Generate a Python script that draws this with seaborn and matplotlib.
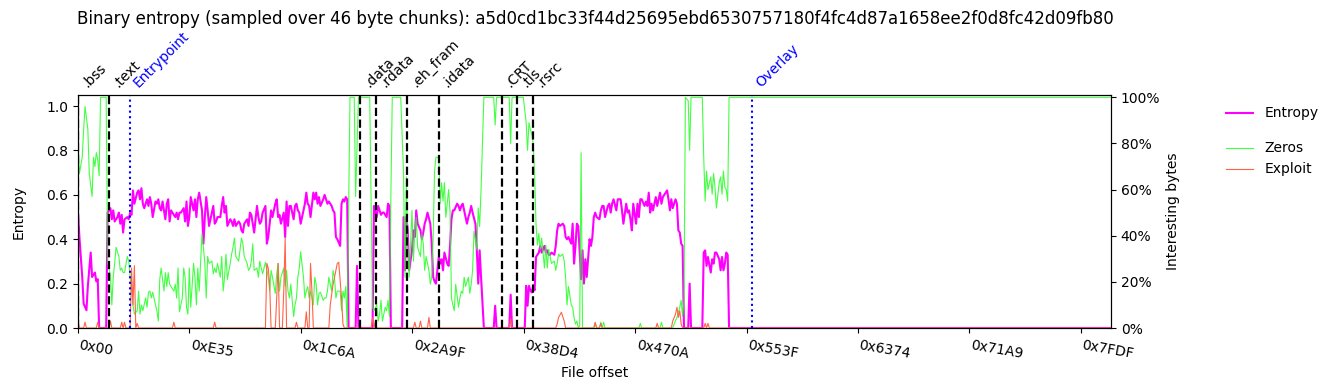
import numpy as np
import pandas as pd
import matplotlib
matplotlib.use("Agg")
import matplotlib.pyplot as plt
import seaborn as sns
from matplotlib.ticker import PercentFormatter

CHUNK = 46
TITLE = ("Binary entropy (sampled over 46 byte chunks): "
         "a5d0cd1bc33f44d25695ebd6530757180f4fc4d87a1658ee2f0d8fc42d09fb80")

# ---- data: chunk index (x46 bytes) and value ----
entropy_chunk = [
    0, 1, 3, 4, 6, 7, 9, 10, 12, 13,
    14, 15, 20, 21, 23, 24, 25, 26, 28, 29,
    30, 31, 32, 33, 35, 36, 37, 38, 39, 40,
    42, 43, 44, 45, 46, 47, 49, 50, 51, 52,
    53, 55, 56, 57, 58, 59, 60, 62, 63, 64,
    65, 66, 67, 69, 70, 71, 72, 73, 75, 76,
    77, 78, 79, 80, 82, 83, 84, 85, 86, 88,
    89, 90, 91, 92, 93, 95, 96, 97, 98, 99,
    101, 102, 103, 104, 105, 106, 108, 109, 110, 111,
    112, 114, 115, 116, 117, 118, 120, 121, 122, 123,
    124, 125, 127, 128, 129, 130, 131, 133, 134, 135,
    136, 137, 138, 140, 141, 142, 143, 144, 146, 147,
    148, 149, 150, 151, 153, 154, 155, 156, 157, 158,
    160, 161, 162, 163, 164, 165, 167, 168, 169, 170,
    171, 172, 174, 175, 176, 177, 178, 180, 181, 182,
    183, 184, 186, 187, 188, 189, 190, 191, 192, 197,
    198, 199, 209, 210, 212, 213, 214, 215, 216, 217,
    219, 220, 221, 222, 230, 231, 232, 233, 234, 235,
    237, 238, 239, 240, 241, 243, 244, 245, 246, 247,
    248, 250, 251, 252, 253, 254, 256, 257, 258, 259,
    260, 262, 263, 264, 265, 266, 267, 269, 270, 271,
    272, 273, 275, 276, 277, 278, 279, 280, 282, 283,
    284, 285, 286, 288, 295, 296, 297, 306, 307, 308,
    317, 318, 319, 320, 321, 322, 323, 324, 325, 327,
    328, 329, 331, 332, 333, 334, 335, 336, 338, 339,
    340, 341, 342, 344, 345, 346, 347, 348, 350, 351,
    352, 353, 354, 355, 357, 358, 359, 360, 361, 363,
    364, 365, 366, 367, 368, 370, 371, 372, 373, 374,
    376, 377, 378, 379, 380, 382, 383, 384, 385, 386,
    387, 389, 390, 391, 392, 393, 394, 396, 397, 398,
    399, 400, 402, 403, 404, 405, 406, 407, 408, 410,
    411, 412, 413, 414, 415, 417, 418, 419, 420, 421,
    422, 424, 425, 426, 427, 428, 429, 430, 433, 434,
    435, 443, 444, 445, 446, 447, 449, 450, 451, 452,
    453, 455, 456, 457, 458, 459, 460, 461, 462, 733,
]
entropy_value = [
    0.52, 0.41, 0.23, 0.11, 0.08, 0.19, 0.34, 0.23, 0.25, 0.21,
    0.22, 0.00, 0.00, 0.52, 0.54, 0.49, 0.53, 0.48, 0.50, 0.52,
    0.47, 0.51, 0.43, 0.49, 0.50, 0.49, 0.52, 0.51, 0.62, 0.56,
    0.61, 0.62, 0.58, 0.63, 0.56, 0.54, 0.58, 0.55, 0.59, 0.56,
    0.50, 0.57, 0.56, 0.58, 0.54, 0.53, 0.57, 0.49, 0.56, 0.58,
    0.48, 0.53, 0.52, 0.50, 0.52, 0.49, 0.52, 0.52, 0.54, 0.48,
    0.57, 0.46, 0.50, 0.59, 0.53, 0.58, 0.50, 0.58, 0.61, 0.53,
    0.38, 0.50, 0.59, 0.53, 0.46, 0.52, 0.55, 0.47, 0.48, 0.50,
    0.50, 0.55, 0.59, 0.52, 0.55, 0.46, 0.49, 0.48, 0.46, 0.49,
    0.46, 0.48, 0.47, 0.44, 0.43, 0.47, 0.49, 0.46, 0.52, 0.51,
    0.47, 0.43, 0.55, 0.50, 0.47, 0.48, 0.52, 0.55, 0.38, 0.41,
    0.47, 0.53, 0.50, 0.56, 0.58, 0.50, 0.51, 0.47, 0.52, 0.41,
    0.57, 0.46, 0.55, 0.55, 0.49, 0.55, 0.56, 0.53, 0.52, 0.47,
    0.53, 0.56, 0.61, 0.56, 0.55, 0.50, 0.61, 0.58, 0.61, 0.56,
    0.59, 0.55, 0.58, 0.60, 0.58, 0.56, 0.57, 0.55, 0.53, 0.52,
    0.41, 0.40, 0.37, 0.56, 0.58, 0.57, 0.59, 0.58, 0.00, 0.00,
    0.28, 0.00, 0.00, 0.55, 0.50, 0.55, 0.53, 0.51, 0.52, 0.52,
    0.50, 0.56, 0.55, 0.00, 0.00, 0.50, 0.26, 0.50, 0.44, 0.26,
    0.35, 0.44, 0.41, 0.53, 0.47, 0.44, 0.40, 0.43, 0.47, 0.49,
    0.52, 0.47, 0.38, 0.23, 0.21, 0.20, 0.32, 0.29, 0.31, 0.26,
    0.34, 0.29, 0.28, 0.37, 0.49, 0.53, 0.53, 0.56, 0.55, 0.53,
    0.55, 0.56, 0.50, 0.47, 0.50, 0.52, 0.55, 0.52, 0.47, 0.35,
    0.20, 0.35, 0.23, 0.00, 0.00, 0.10, 0.00, 0.00, 0.15, 0.00,
    0.00, 0.19, 0.10, 0.19, 0.17, 0.16, 0.19, 0.17, 0.32, 0.34,
    0.37, 0.34, 0.37, 0.34, 0.35, 0.33, 0.33, 0.34, 0.33, 0.37,
    0.44, 0.47, 0.46, 0.47, 0.46, 0.41, 0.40, 0.41, 0.38, 0.47,
    0.29, 0.37, 0.47, 0.46, 0.22, 0.35, 0.20, 0.31, 0.23, 0.40,
    0.37, 0.41, 0.50, 0.52, 0.50, 0.49, 0.53, 0.55, 0.55, 0.50,
    0.55, 0.56, 0.52, 0.56, 0.58, 0.53, 0.58, 0.58, 0.58, 0.53,
    0.47, 0.56, 0.52, 0.53, 0.49, 0.44, 0.56, 0.47, 0.56, 0.50,
    0.58, 0.58, 0.55, 0.57, 0.55, 0.61, 0.52, 0.56, 0.53, 0.59,
    0.55, 0.58, 0.61, 0.56, 0.59, 0.61, 0.62, 0.58, 0.53, 0.58,
    0.54, 0.58, 0.56, 0.44, 0.43, 0.38, 0.37, 0.00, 0.00, 0.20,
    0.00, 0.00, 0.34, 0.35, 0.28, 0.32, 0.25, 0.31, 0.29, 0.34,
    0.34, 0.31, 0.26, 0.32, 0.26, 0.29, 0.34, 0.33, 0.00, 0.00,
]

zeros_chunk = [
    0, 1, 3, 4, 5, 7, 8, 10, 11, 12,
    13, 14, 15, 16, 20, 21, 23, 24, 25, 26,
    27, 29, 30, 31, 32, 33, 35, 36, 37, 38,
    39, 40, 42, 43, 44, 45, 46, 48, 49, 50,
    51, 52, 53, 55, 56, 57, 58, 59, 61, 62,
    63, 64, 65, 66, 68, 69, 70, 71, 72, 74,
    75, 76, 77, 78, 79, 80, 82, 83, 84, 85,
    86, 88, 89, 90, 91, 92, 93, 95, 96, 97,
    98, 99, 101, 102, 103, 104, 105, 106, 108, 109,
    110, 111, 112, 114, 115, 116, 117, 118, 120, 121,
    122, 123, 124, 125, 127, 128, 129, 130, 131, 133,
    134, 135, 136, 137, 138, 140, 141, 142, 143, 144,
    146, 147, 148, 149, 150, 151, 153, 154, 155, 156,
    157, 158, 160, 161, 162, 163, 164, 165, 167, 168,
    169, 170, 171, 172, 174, 175, 176, 177, 178, 180,
    181, 182, 183, 184, 186, 187, 188, 189, 190, 191,
    193, 196, 197, 199, 207, 209, 210, 212, 213, 214,
    215, 216, 218, 219, 220, 221, 222, 223, 229, 231,
    232, 233, 234, 235, 237, 238, 239, 240, 241, 243,
    244, 245, 246, 247, 249, 250, 251, 252, 253, 254,
    256, 257, 258, 259, 260, 261, 263, 264, 265, 266,
    267, 268, 270, 271, 272, 273, 274, 275, 277, 278,
    279, 280, 281, 283, 284, 285, 286, 288, 295, 296,
    297, 306, 307, 308, 316, 318, 319, 320, 321, 322,
    323, 324, 325, 326, 327, 328, 329, 331, 332, 333,
    334, 335, 336, 338, 339, 340, 341, 342, 344, 345,
    346, 347, 348, 350, 351, 352, 353, 354, 355, 356,
    357, 358, 366, 367, 368, 370, 371, 372, 373, 374,
    398, 399, 400, 413, 414, 415, 422, 423, 425, 427,
    428, 429, 430, 431, 433, 434, 435, 443, 444, 445,
    446, 447, 449, 450, 451, 452, 453, 455, 456, 457,
    458, 459, 460, 461, 462, 733,
]
zeros_value = [
    0.80, 0.67, 0.74, 0.86, 0.96, 0.86, 0.67, 0.57, 0.74, 0.70,
    0.76, 0.73, 0.66, 1.00, 1.00, 0.28, 0.23, 0.10, 0.22, 0.28,
    0.35, 0.31, 0.25, 0.26, 0.24, 0.24, 0.31, 0.29, 0.22, 0.16,
    0.10, 0.06, 0.075, 0.16, 0.06, 0.10, 0.075, 0.13, 0.09, 0.155,
    0.16, 0.13, 0.155, 0.10, 0.075, 0.03, 0.21, 0.26, 0.16, 0.24,
    0.18, 0.24, 0.19, 0.18, 0.16, 0.19, 0.13, 0.26, 0.07, 0.13,
    0.26, 0.22, 0.09, 0.06, 0.26, 0.09, 0.28, 0.22, 0.10, 0.26,
    0.16, 0.41, 0.35, 0.28, 0.13, 0.31, 0.28, 0.29, 0.235, 0.26,
    0.24, 0.28, 0.22, 0.31, 0.16, 0.22, 0.32, 0.21, 0.28, 0.32,
    0.35, 0.39, 0.31, 0.29, 0.34, 0.39, 0.365, 0.31, 0.28, 0.25,
    0.26, 0.29, 0.365, 0.25, 0.26, 0.22, 0.29, 0.26, 0.235, 0.285,
    0.25, 0.22, 0.16, 0.25, 0.22, 0.15, 0.235, 0.28, 0.16, 0.22,
    0.26, 0.18, 0.25, 0.16, 0.13, 0.19, 0.05, 0.10, 0.13, 0.22,
    0.26, 0.33, 0.22, 0.13, 0.16, 0.18, 0.13, 0.16, 0.10, 0.22,
    0.19, 0.10, 0.15, 0.155, 0.12, 0.13, 0.13, 0.16, 0.22, 0.16,
    0.25, 0.22, 0.13, 0.16, 0.16, 0.075, 0.16, 0.13, 0.18, 0.00,
    1.00, 1.00, 0.57, 1.00, 1.00, 0.09, 0.075, 0.10, 0.03, 0.06,
    0.12, 0.03, 0.09, 0.075, 0.12, 0.05, 0.57, 1.00, 1.00, 0.67,
    0.22, 0.655, 0.38, 0.22, 0.51, 0.29, 0.42, 0.48, 0.35, 0.31,
    0.41, 0.365, 0.25, 0.31, 0.25, 0.19, 0.22, 0.39, 0.68, 0.74,
    0.74, 0.54, 0.63, 0.55, 0.63, 0.48, 0.60, 0.50, 0.13, 0.10,
    0.075, 0.19, 0.09, 0.13, 0.16, 0.15, 0.22, 0.18, 0.22, 0.15,
    0.19, 0.25, 0.42, 0.34, 0.52, 0.44, 0.60, 1.00, 1.00, 0.88,
    1.00, 1.00, 0.80, 1.00, 1.00, 0.89, 0.77, 0.89, 0.86, 0.84,
    0.80, 0.67, 0.45, 0.36, 0.41, 0.34, 0.39, 0.26, 0.36, 0.26,
    0.34, 0.31, 0.28, 0.29, 0.25, 0.28, 0.32, 0.31, 0.32, 0.29,
    0.22, 0.10, 0.18, 0.10, 0.09, 0.045, 0.017, 0.03, 0.00, 0.01,
    0.76, 0.00, 0.00, 0.02, 0.00, 0.00, 0.025, 0.00, 0.025, 0.00,
    0.00, 0.02, 0.00, 0.00, 0.025, 0.00, 0.00, 0.017, 0.046, 0.09,
    0.12, 0.05, 0.12, 1.00, 0.985, 0.77, 1.00, 1.00, 0.74, 0.55,
    0.68, 0.60, 0.655, 0.58, 0.67, 0.61, 0.52, 0.63, 0.655, 0.58,
    0.68, 0.61, 0.60, 0.55, 1.00, 1.00,
]

exploit_chunk = [
    0, 1, 4, 5, 6, 13, 14, 15, 22, 23,
    24, 30, 31, 32, 33, 34, 37, 38, 39, 40,
    41, 42, 43, 67, 68, 69, 96, 97, 98, 133,
    134, 135, 136, 137, 140, 141, 142, 143, 145, 146,
    147, 148, 154, 155, 156, 161, 162, 163, 164, 165,
    166, 167, 178, 179, 181, 182, 183, 184, 185, 187,
    188, 189, 208, 209, 210, 211, 212, 238, 239, 240,
    242, 243, 244, 248, 249, 250, 306, 307, 308, 339,
    340, 341, 343, 345, 346, 366, 367, 368, 370, 371,
    372, 410, 411, 412, 421, 422, 424, 425, 426, 427,
    428, 429, 444, 445, 446, 447, 448, 733,
]
exploit_value = [
    0.03, 0.00, 0.00, 0.025, 0.00, 0.00, 0.025, 0.00, 0.00, 0.03,
    0.00, 0.00, 0.025, 0.00, 0.025, 0.00, 0.00, 0.26, 0.10, 0.27,
    0.00, 0.02, 0.00, 0.00, 0.025, 0.00, 0.00, 0.025, 0.00, 0.00,
    0.28, 0.26, 0.19, 0.00, 0.00, 0.13, 0.28, 0.00, 0.00, 0.16,
    0.39, 0.00, 0.00, 0.025, 0.00, 0.00, 0.07, 0.00, 0.00, 0.28,
    0.16, 0.00, 0.00, 0.10, 0.19, 0.22, 0.25, 0.28, 0.285, 0.13,
    0.017, 0.00, 0.00, 0.045, 0.00, 0.03, 0.00, 0.00, 0.025, 0.00,
    0.00, 0.03, 0.00, 0.00, 0.046, 0.00, 0.00, 0.04, 0.00, 0.00,
    0.017, 0.046, 0.068, 0.03, 0.00, 0.00, 0.025, 0.00, 0.00, 0.02,
    0.00, 0.00, 0.02, 0.00, 0.00, 0.03, 0.06, 0.09, 0.046, 0.075,
    0.017, 0.00, 0.00, 0.02, 0.00, 0.02, 0.00, 0.00,
]

section_names = [".bss", ".text", ".data", ".rdata", ".eh_fram",
                 ".idata", ".CRT", ".tls", ".rsrc"]
section_offsets = [0x0, 0x400, 0x2400, 0x2600, 0x2A00,
                   0x2E00, 0x3600, 0x3800, 0x3A00]
marker_names = ["Entrypoint", "Overlay"]
marker_offsets = [0x698, 0x5600]

tick_offsets = [0x00, 0xE35, 0x1C6A, 0x2A9F, 0x38D4,
                0x470A, 0x553F, 0x6374, 0x71A9, 0x7FDF]
tick_labels = ["0x00", "0xE35", "0x1C6A", "0x2A9F", "0x38D4",
               "0x470A", "0x553F", "0x6374", "0x71A9", "0x7FDF"]
axis_end_chunk = 733

# ---- frames ----
ent_df = pd.DataFrame({"offset": np.array(entropy_chunk) * CHUNK,
                       "value": entropy_value})
zer_df = pd.DataFrame({"offset": np.array(zeros_chunk) * CHUNK,
                       "value": zeros_value})
exp_df = pd.DataFrame({"offset": np.array(exploit_chunk) * CHUNK,
                       "value": exploit_value})

W, H = 1335, 390
fig = plt.figure(figsize=(W / 100, H / 100), dpi=100)
ax1 = fig.add_axes([78 / W, 62 / H, 1033 / W, 233 / H])
ax2 = ax1.twinx()

sns.lineplot(data=ent_df, x="offset", y="value", ax=ax1, color="#ff00ff",
             linewidth=1.5, estimator=None, sort=False, legend=False,
             label="Entropy")
h_ent = ax1.lines[-1]
sns.lineplot(data=zer_df, x="offset", y="value", ax=ax2, color="#22ff22",
             linewidth=0.8, alpha=0.85, estimator=None, sort=False,
             legend=False, label="Zeros")
h_zer = ax2.lines[-1]
sns.lineplot(data=exp_df, x="offset", y="value", ax=ax2, color="tomato",
             linewidth=0.8, estimator=None, sort=False, legend=False,
             label="Exploit")
h_exp = ax2.lines[-1]

ax1.set_xlim(0, axis_end_chunk * CHUNK)
ax1.set_ylim(0, 1.05)
ax2.set_ylim(0, 1.01)
ax2.set_yticks([0, 0.2, 0.4, 0.6, 0.8, 1.0])
ax2.yaxis.set_major_formatter(PercentFormatter(1.0, decimals=0))

ax1.set_xticks(tick_offsets)
ax1.set_xticklabels(tick_labels, rotation=-10, ha="left")
ax1.set_xlabel("File offset")
ax1.set_ylabel("Entropy", labelpad=15)
ax2.set_ylabel("Interesting bytes")

for name, off in zip(section_names, section_offsets):
    ax2.axvline(off, color="black", linestyle="--", linewidth=1.6)
    ax2.annotate(name, xy=(off, 1.0), xycoords=("data", "axes fraction"),
                 xytext=(6.5, 5.0), textcoords="offset points",
                 rotation=45, rotation_mode="anchor", ha="left",
                 va="baseline", fontsize=10, color="black")
for name, off in zip(marker_names, marker_offsets):
    ax2.axvline(off, color="blue", linestyle=":", linewidth=1.5)
    ax2.annotate(name, xy=(off, 1.0), xycoords=("data", "axes fraction"),
                 xytext=(6.5, 5.0), textcoords="offset points",
                 rotation=45, rotation_mode="anchor", ha="left",
                 va="baseline", fontsize=10, color="blue")

fig.text(77 / W, 1 - 19 / H, TITLE, fontsize=12, ha="left", va="center")

fig.legend(handles=[h_ent], labels=["Entropy"], loc="upper left",
           bbox_to_anchor=(1213 / W, 1 - 94 / H), frameon=False)
fig.legend(handles=[h_zer, h_exp], labels=["Zeros", "Exploit"],
           loc="upper left", bbox_to_anchor=(1213 / W, 1 - 129 / H),
           frameon=False)

fig.savefig("out.png", dpi=100)
